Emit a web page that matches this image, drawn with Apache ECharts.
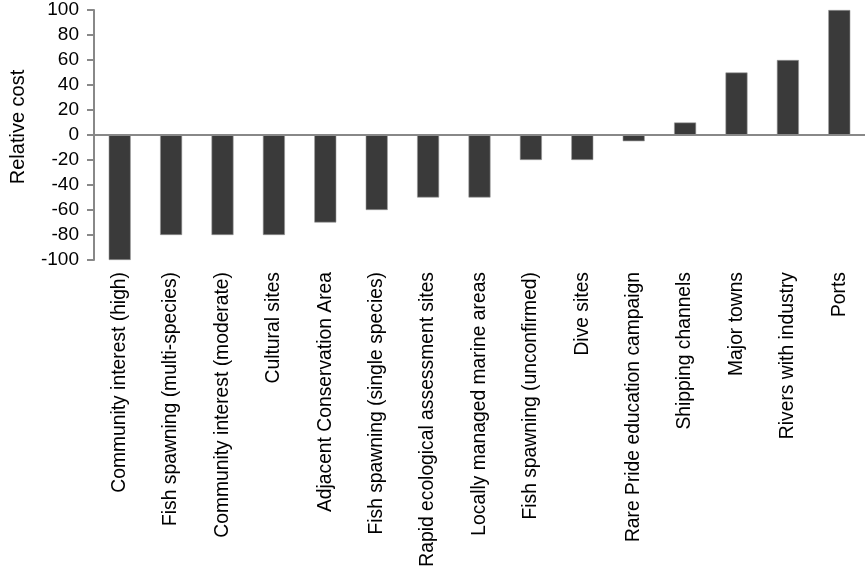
<!DOCTYPE html>
<html>
<head>
<meta charset="utf-8">
<script src="https://cdn.jsdelivr.net/npm/echarts@6/dist/echarts.min.js"></script>
<style>html,body{margin:0;padding:0;background:#fff}#c{width:865px;height:570px}</style>
</head>
<body>
<div id="c"></div>
<script>
const categories = [
  "Community interest (high)",
  "Fish spawning (multi-species)",
  "Community interest (moderate)",
  "Cultural sites",
  "Adjacent Conservation Area",
  "Fish spawning (single species)",
  "Rapid ecological assessment sites",
  "Locally managed marine areas",
  "Fish spawning (unconfirmed)",
  "Dive sites",
  "Rare Pride education campaign",
  "Shipping channels",
  "Major towns",
  "Rivers with industry",
  "Ports"
];
const relativeCost = [-100, -80, -80, -80, -70, -60, -50, -50, -20, -20, -5, 10, 50, 60, 100];
const yTicks = { min: -100, max: 100, interval: 20 };

const chart = echarts.init(document.getElementById('c'), null, { renderer: 'canvas' });
const font = '"Liberation Sans", Arial, sans-serif';
chart.setOption({
  animation: false,
  backgroundColor: '#fff',
  grid: { left: 87, right: 0, top: 10, bottom: 310, containLabel: false },
  xAxis: {
    type: 'category',
    data: categories,
    axisLine: { show: false, onZero: false },
    axisTick: { show: false },
    axisLabel: {
      rotate: 90, interval: 0, margin: 12,
      color: '#000', fontSize: 19.3, fontFamily: font
    }
  },
  yAxis: {
    type: 'value',
    min: yTicks.min, max: yTicks.max, interval: yTicks.interval,
    name: 'Relative cost',
    nameLocation: 'middle',
    nameRotate: 90,
    nameGap: 66,
    nameTextStyle: { color: '#000', fontSize: 20, fontFamily: font, padding: [0, 0, 0, 16] },
    axisLine: { show: true, lineStyle: { color: '#888', width: 2 } },
    axisTick: { show: true, inside: false, length: 7, lineStyle: { color: '#888', width: 2 } },
    axisLabel: { color: '#000', fontSize: 19, fontFamily: font, margin: 15 },
    splitLine: { show: false }
  },
  series: [{
    type: 'bar',
    data: relativeCost,
    barWidth: 22,
    itemStyle: { color: '#3a3a3a', borderColor: '#999', borderWidth: 0.6 },
    markLine: {
      silent: true,
      symbol: 'none',
      label: { show: false },
      lineStyle: { color: '#888', width: 2, type: 'solid' },
      data: [{ yAxis: 0 }]
    }
  }]
});
</script>
</body>
</html>
